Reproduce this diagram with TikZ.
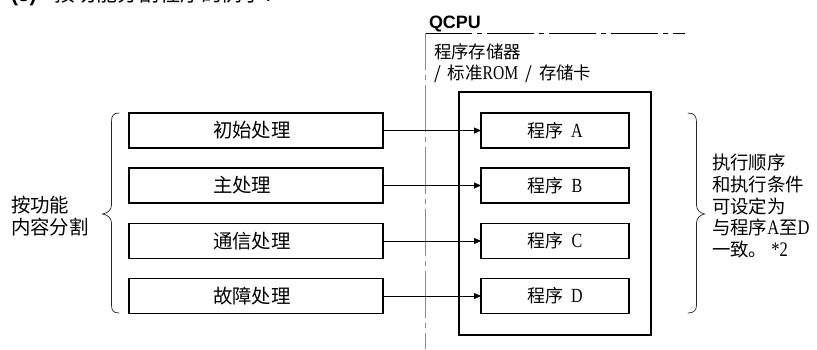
\documentclass[tikz,border=0pt]{standalone}
\usepackage{fontspec}
\newfontfamily\cjk{Noto Sans CJK SC}
\newfontfamily\latn{Liberation Serif}[FakeStretch=0.8, Scale=1.12]
\newfontfamily\hsans{Liberation Sans}
\newcommand\lt[1]{{\latn #1}}
\usetikzlibrary{arrows.meta}
\begin{document}
\begin{tikzpicture}[x=1bp,y=-1bp,
  every node/.style={inner sep=0pt, outer sep=0pt},
  fbox/.style={draw, line width=1.1bp, minimum width=254bp, minimum height=35bp},
  pbox/.style={draw, line width=1.2bp, minimum width=148bp, minimum height=35bp},
  ftext/.style={anchor=west, font=\cjk\fontsize{19.5}{22}\selectfont},
  ptext/.style={font=\cjk\fontsize{18}{20}\selectfont},
  side/.style={align=left, font=\cjk\fontsize{18.5}{21.7}\selectfont},
  conn/.style={line width=0.8bp, -{Triangle[length=7bp,width=6bp]}},
  bracestyle/.style={line width=0.7bp, line cap=round, draw=black!85},
  cpuline/.style={line width=0.8bp, dash pattern=on 47bp off 5bp on 5bp off 5bp},
]
\useasboundingbox (0,0) rectangle (817,349);

% title (cut at top, as in the reference)
\node[anchor=base west, font=\fontsize{21}{24}\selectfont] (title) at (11,1.5)
  {{\hsans\bfseries (3)}\hspace{18bp}{\cjk 按功能分割程序的例子：}};

% QCPU frame
\node[anchor=base west, font=\hsans\bfseries\fontsize{18}{20}\selectfont] (qcpu) at (429,28) {QCPU};
\coordinate (cpuTL) at (425,33);
\coordinate (cpuTR) at (685,33);
\coordinate (cpuBL) at (425,349);
\draw[cpuline] (cpuTL) -- (cpuTR);
\draw[cpuline, draw=black!45, dash phase=10bp] (cpuTL) -- (cpuBL);

\node[anchor=north west, align=left, font=\cjk\fontsize{17.5}{20.5}\selectfont] (memlbl) at (434,44)
  {程序存储器\\/\hspace{7bp}标准\lt{ROM}\hspace{7bp}/\hspace{7bp}存储卡};

% memory box
\node[draw, line width=2bp, minimum width=192bp, minimum height=243bp] (mem) at (555,213.5) {};

% function boxes
\foreach \i/\y/\t in {1/130.5/初始处理, 2/185.5/主处理, 3/241/通信处理, 4/296/故障处理}{
  \node[fbox] (f\i) at (256,\y) {};
  \node[ftext] (ft\i) at ([xshift=84bp]f\i.west) {\t};
}

% program boxes
\foreach \i/\y/\t in {1/130.5/A, 2/185.5/B, 3/241/C, 4/296/D}{
  \node[pbox] (p\i) at (555,\y) {};
  \node[ptext] (pt\i) at (p\i.center) {程序\hspace{8bp}\lt{\t}};
  \draw[conn] (f\i.east) -- (p\i.west);
}

% left brace
\draw[bracestyle] (119,113) .. controls (113,113) and (111.5,116) .. (111.5,122)
  -- (111.5,205) .. controls (111.5,210) and (108,213) .. (102.5,214)
  .. controls (108,215) and (111.5,218) .. (111.5,223)
  -- (111.5,305) .. controls (111.5,310) and (113,313) .. (119,313);
\node[side, anchor=west, font=\cjk\fontsize{19.5}{22}\selectfont] (leftlbl) at (11,216) {按功能\\内容分割};

% right brace
\draw[bracestyle] (688,113) .. controls (694,113) and (696.5,116) .. (696.5,122)
  -- (696.5,205) .. controls (696.5,210) and (700,213) .. (704.5,214)
  .. controls (700,215) and (696.5,218) .. (696.5,223)
  -- (696.5,305) .. controls (696.5,310) and (694,313) .. (688,313);
\node[side, anchor=west] (rightlbl) at (712,206)
  {执行顺序\\和执行条件\\可设定为\\与程序\lt{A}至\lt{D}\\一致。\hspace{4bp}\lt{*2}};
\end{tikzpicture}
\end{document}
